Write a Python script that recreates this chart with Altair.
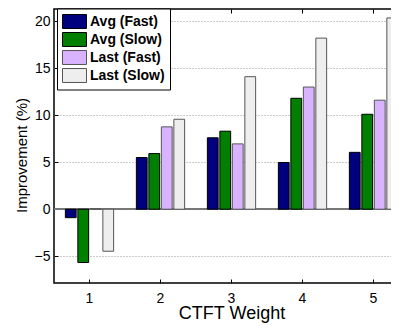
import altair as alt
import pandas as pd

weights = [1, 2, 3, 4, 5]
series = ["Avg (Fast)", "Avg (Slow)", "Last (Fast)", "Last (Slow)"]
avg_fast = [-0.9, 5.5, 7.6, 4.97, 6.05]
avg_slow = [-5.67, 5.92, 8.3, 11.8, 10.1]
last_fast = [0.05, 8.76, 6.95, 13.0, 11.6]
last_slow = [-4.47, 9.57, 14.1, 18.2, 20.35]
y_ticks = [-5, 0, 5, 10, 15, 20]

fill_colors = ["#00007F", "#007F00", "#D9B3FF", "#EEEEEE"]
stroke_colors = ["#000000", "#000000", "#555555", "#555555"]

rows = []
for s, vals in zip(series, [avg_fast, avg_slow, last_fast, last_slow]):
    for w, v in zip(weights, vals):
        rows.append({"weight": w, "series": s, "value": v})
df = pd.DataFrame(rows)

FONT = "Liberation Sans"

x_scale = alt.Scale(domain=weights, paddingInner=0.32, paddingOuter=0.16)
y_scale = alt.Scale(domain=[-7.85, 21.3], nice=False, zero=False)

legend = alt.Legend(
    title=None, orient="none", legendX=3, legendY=-0.5,
    symbolType="M-1,-0.93H2.2V0.93H-1Z", symbolSize=225, symbolStrokeWidth=1,
    symbolOpacity=1,
    labelFont=FONT, labelFontSize=14, labelFontWeight="bold", labelColor="black",
    strokeColor="black", fillColor="white", padding=5, rowPadding=0, labelOffset=12,
)

bottom_axis = alt.Axis(
    title="CTFT Weight", orient="bottom", labelAngle=0, offset=-4, domain=False,
    tickSize=4, tickColor="black", tickWidth=1, labelPadding=8,
    labelFont=FONT, labelFontSize=14, labelColor="black",
    titleFont=FONT, titleFontSize=18, titleFontWeight="normal", titleColor="black",
    titlePadding=-1, grid=False,
)
top_axis = alt.Axis(
    title=None, orient="top", labels=False, offset=-4, domain=False,
    tickSize=4, tickColor="black", tickWidth=1, grid=False,
)
left_axis = alt.Axis(
    title="Improvement (%)", values=y_ticks, format="d", offset=-4, domain=False,
    tickSize=4, tickColor="black", tickWidth=1, labelPadding=4,
    labelFont=FONT, labelFontSize=14, labelColor="black",
    titleFont=FONT, titleFontSize=15, titleFontWeight="normal", titleColor="black",
    titlePadding=5, titleY=146,
    grid=True, gridDash=[1, 2], gridColor="#999999", gridWidth=1,
)

bars = alt.Chart(df).mark_bar(strokeWidth=1).encode(
    x=alt.X("weight:O", scale=x_scale, axis=bottom_axis),
    xOffset=alt.XOffset("series:N", sort=series,
                        scale=alt.Scale(domain=series, paddingInner=0.136, paddingOuter=0)),
    y=alt.Y("value:Q", scale=y_scale, axis=left_axis, stack=None),
    y2=alt.datum(0),
    fill=alt.Fill("series:N", sort=series, scale=alt.Scale(domain=series, range=fill_colors), legend=legend),
    stroke=alt.Stroke("series:N", sort=series, scale=alt.Scale(domain=series, range=stroke_colors), legend=legend),
)

zero_line = alt.Chart(df).mark_rule(color="#777777", strokeWidth=1).encode(
    y=alt.datum(0),
)

top_ticks = alt.Chart(df).mark_bar(opacity=0).encode(
    x=alt.X("weight:O", scale=x_scale, axis=top_axis),
)

chart = alt.layer(zero_line, bars, top_ticks).resolve_axis(x="independent").properties(
    width=355, height=274,
    autosize=alt.AutoSizeParams(type="none"),
    padding={"left": 46, "top": 1, "right": -18, "bottom": 42},
).configure(font=FONT).configure_view(stroke="black", strokeWidth=1.5)

chart.save("out.html", embed_options={"renderer": "svg", "actions": False})
